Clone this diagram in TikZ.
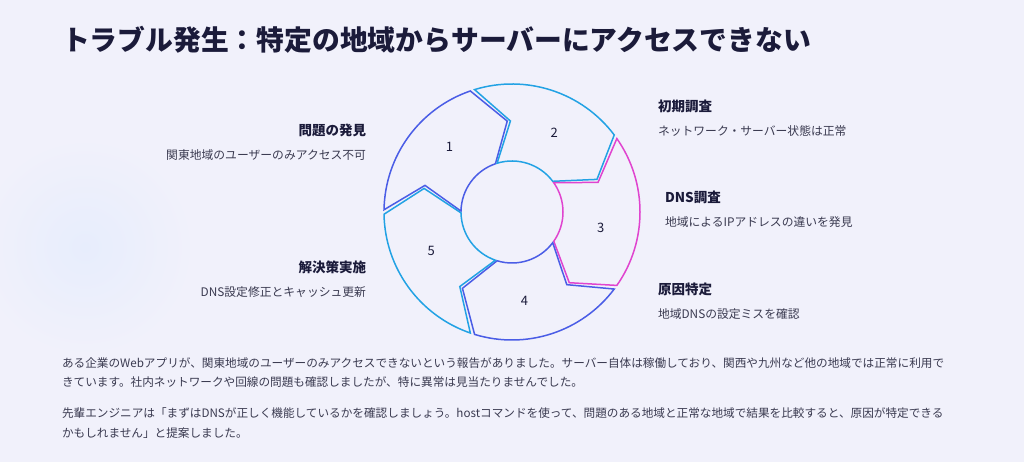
\documentclass[tikz,border=0pt]{standalone}
\usepackage{fontspec}
\setmainfont{Noto Sans CJK JP}
\usepackage{tikz}
\usetikzlibrary{positioning}
\usepackage{xcolor}
\definecolor{ringblue}{HTML}{4A5DE6}
\definecolor{ringcyan}{HTML}{22A2E4}
\definecolor{ringpink}{HTML}{E044CF}
\definecolor{bgpale}{HTML}{F1F1FB}
\definecolor{bgblob}{HTML}{E7EDFC}
\definecolor{ink}{HTML}{1B1B3A}
\definecolor{textgray}{HTML}{3A3A50}
\tikzset{
	node distance = 13.5pt and 6pt,
	every node/.style={inner sep=0pt,outer sep=0pt},
	seg/.style = {line width=1.5pt, line join=miter},
	num/.style = {font=\fontsize{13}{13}\selectfont, text=ink},
	head/.style = {font=\fontsize{13.5}{14}\selectfont\bfseries, text=ink},
	desc/.style = {font=\fontsize{11.8}{12}\selectfont, text=textgray},
	para/.style = {font=\fontsize{11.63}{12}\selectfont, text=textgray, anchor=west},
	title/.style = {font=\fontsize{27.8}{30}\selectfont\bfseries, text=ink, anchor=west}
}

\begin{document}
\begin{tikzpicture}[x=1pt,y=1pt]
	% Background
	\useasboundingbox (0,0) rectangle (1024,462);
	\fill[bgpale] (0,0) rectangle (1024,462);
	\begin{scope}
		\clip (0,0) rectangle (1024,462);
		\shade[inner color=bgblob, outer color=bgpale] (85,215) circle (110);
	\end{scope}
	
	% Title
	\node (title) [title] at (62,422) {トラブル発生：特定の地域からサーバーにアクセスできない};
	
	% Cycle
	\begin{scope}[shift={(512,250)}]
		\draw[seg, ringblue] (179:128) arc[start angle=179, end angle=109, radius=128] -- (93:91) -- (109:51) arc[start angle=109, end angle=179, radius=51] -- (163:91) -- cycle;
		\draw[seg, ringcyan] (107:128) arc[start angle=107, end angle=37, radius=128] -- (21:91) -- (37:51) arc[start angle=37, end angle=107, radius=51] -- (91:91) -- cycle;
		\draw[seg, ringpink] (35:128) arc[start angle=35, end angle=-35, radius=128] -- (-51:91) -- (-35:51) arc[start angle=-35, end angle=35, radius=51] -- (19:91) -- cycle;
		\draw[seg, ringblue] (-37:128) arc[start angle=-37, end angle=-107, radius=128] -- (-123:91) -- (-107:51) arc[start angle=-107, end angle=-37, radius=51] -- (-53:91) -- cycle;
		\draw[seg, ringcyan] (-109:128) arc[start angle=-109, end angle=-179, radius=128] -- (-195:91) -- (-179:51) arc[start angle=-179, end angle=-109, radius=51] -- (-125:91) -- cycle;
		
		\node (n1) [num] at (134:90) {1};
		\node (n2) [num] at (62:90) {2};
		\node (n3) [num] at (-10:90) {3};
		\node (n4) [num] at (-82:90) {4};
		\node (n5) [num] at (-154:90) {5};
	\end{scope}
	
	% Steps
	\node (h1) [head, anchor=east] at (366,332) {問題の発見};
	\node (d1) [desc, below = of h1.south east, anchor=north east] {関東地域のユーザーのみアクセス不可};
	\node (h2) [head, anchor=west] at (658,356) {初期調査};
	\node (d2) [desc, below = of h2.south west, anchor=north west] {ネットワーク・サーバー状態は正常};
	\node (h3) [head, anchor=west] at (665,265) {DNS調査};
	\node (d3) [desc, below = of h3.south west, anchor=north west] {地域によるIPアドレスの違いを発見};
	\node (h4) [head, anchor=west] at (658,173) {原因特定};
	\node (d4) [desc, below = of h4.south west, anchor=north west] {地域DNSの設定ミスを確認};
	\node (h5) [head, anchor=east] at (366,195) {解決策実施};
	\node (d5) [desc, below = of h5.south east, anchor=north east] {DNS設定修正とキャッシュ更新};
	
	% Story
	\node (p1) [para] at (62,99) {ある企業のWebアプリが、関東地域のユーザーのみアクセスできないという報告がありました。サーバー自体は稼働しており、関西や九州など他の地域では正常に利用で};
	\node (p2) [para] at (62,80) {きています。社内ネットワークや回線の問題も確認しましたが、特に異常は見当たりませんでした。};
	\node (p3) [para] at (62,49) {先輩エンジニアは「まずはDNSが正しく機能しているかを確認しましょう。hostコマンドを使って、問題のある地域と正常な地域で結果を比較すると、原因が特定できる};
	\node (p4) [para] at (62,29) {かもしれません」と提案しました。};
\end{tikzpicture}
\end{document}
